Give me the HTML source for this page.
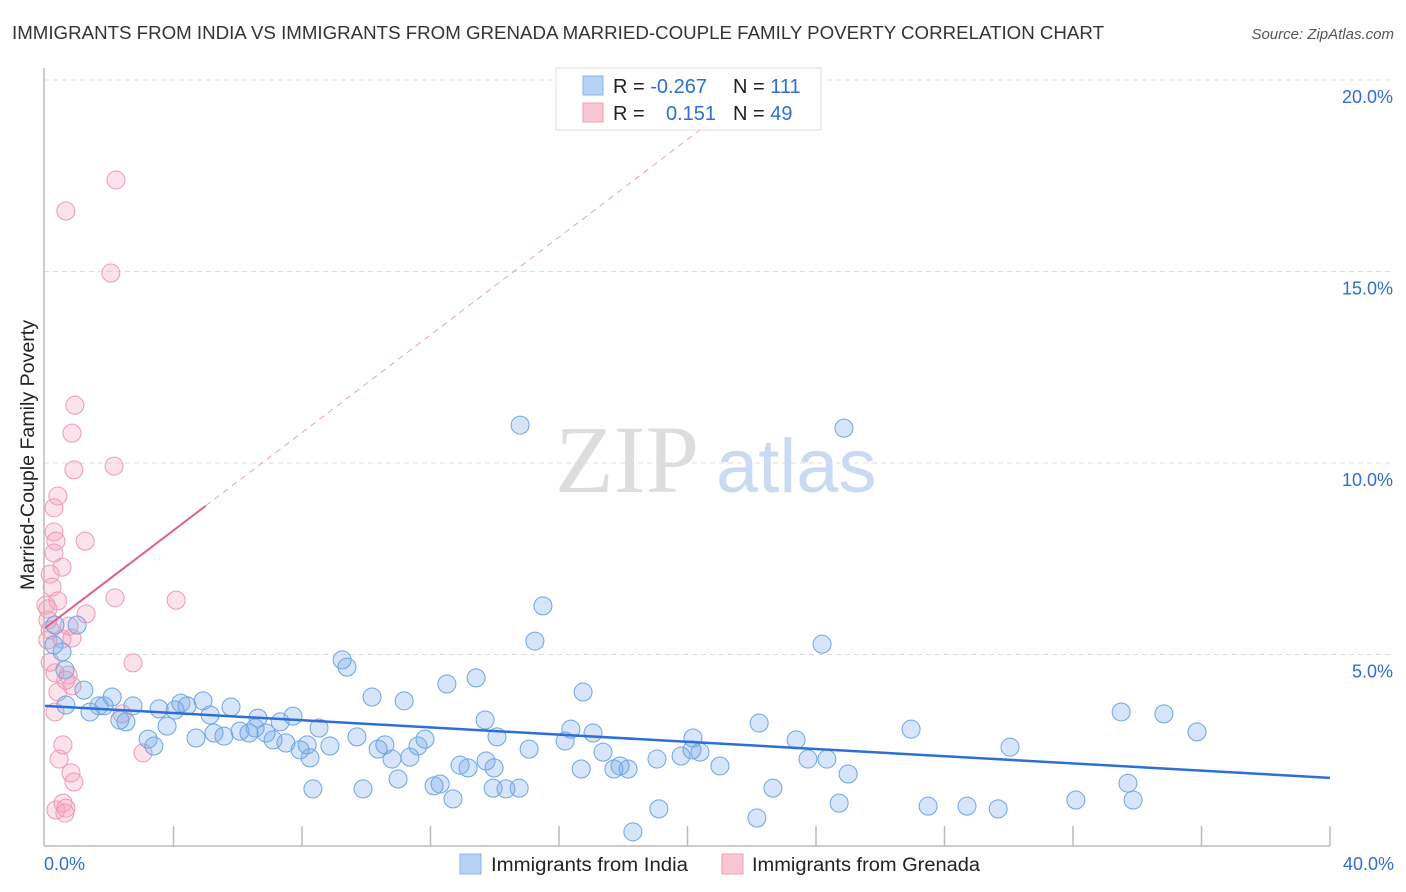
<!DOCTYPE html>
<html><head><meta charset="utf-8"><style>
body{margin:0;background:#fff;font-family:"Liberation Sans",sans-serif;}
#c{position:relative;width:1406px;height:892px;overflow:hidden;}
</style></head><body>
<div id="c">
<svg id="s" width="1406" height="892" xmlns="http://www.w3.org/2000/svg">
<text x="12" y="39" font-size="18" fill="#333" textLength="1092" lengthAdjust="spacingAndGlyphs">IMMIGRANTS FROM INDIA VS IMMIGRANTS FROM GRENADA MARRIED-COUPLE FAMILY POVERTY CORRELATION CHART</text>
<text x="1394" y="39" font-size="15" fill="#555" font-style="italic" text-anchor="end">Source: ZipAtlas.com</text>
<text x="555" y="492" font-size="96" fill="#ddd" font-family="Liberation Serif">ZIP</text>
<text x="716" y="492" font-size="76" fill="#c9daf2">atlas</text>
<text transform="translate(34,455) rotate(-90)" font-size="19" fill="#222" text-anchor="middle" textLength="270" lengthAdjust="spacingAndGlyphs">Married-Couple Family Poverty</text>
<g id="grid"></g><g id="pts"></g><g id="lines"></g>
<line x1="44" y1="68" x2="44" y2="846" stroke="#bbb" stroke-width="1.5"/>
<line x1="44" y1="846" x2="1330" y2="846" stroke="#bbb" stroke-width="1.5"/>
<g>
<rect x="556" y="68" width="265" height="62" fill="#fff" stroke="#ddd"/>
<rect x="583" y="76" width="20" height="19" fill="#b6d2f5" stroke="#8bb4e8"/>
<rect x="583" y="103" width="20" height="19" fill="#f9c6d4" stroke="#ee9fb6"/>
<text x="613" y="93" font-size="20" fill="#222">R = <tspan fill="#2d6fd4">-0.267</tspan></text>
<text x="733" y="93" font-size="20" fill="#222">N = <tspan fill="#2d6fd4">111</tspan></text>
<text x="613" y="120" font-size="20" fill="#222">R = <tspan fill="#2d6fd4" x="666">0.151</tspan></text>
<text x="733" y="120" font-size="20" fill="#222">N = <tspan fill="#2d6fd4">49</tspan></text>
</g>
<text x="44" y="870" font-size="18" fill="#2d6fd4">0.0%</text>
<text x="1394" y="870" font-size="18" fill="#2d6fd4" text-anchor="end">40.0%</text>
<g>
<rect x="460" y="854" width="21" height="20" fill="#b6d2f5" stroke="#8bb4e8"/>
<text x="491" y="871" font-size="19" fill="#222" textLength="197" lengthAdjust="spacingAndGlyphs">Immigrants from India</text>
<rect x="722" y="854" width="21" height="20" fill="#f9c6d4" stroke="#ee9fb6"/>
<text x="752" y="871" font-size="19" fill="#222" textLength="228" lengthAdjust="spacingAndGlyphs">Immigrants from Grenada</text>
</g>
</svg>
</div>
<script>
const yTicks=[5,10,15,20];
const xTicks=[4,8,12,16,20,24,28,32,36,40];
const indiaX=[14.79,24.87,15.50,15.25,24.19,9.25,9.40,12.51,13.42,16.75,10.18,11.18,33.50,34.83,35.86,26.96,30.04,22.23,23.38,20.17,20.14,20.39,19.80,21.01,19.05,18.15,17.90,17.71,16.69,17.37,17.06,16.37,16.19,15.07,13.70,14.07,13.73,13.17,12.92,13.98,13.95,14.76,14.35,12.30,12.11,12.70,10.99,9.90,8.34,19.11,18.30,22.16,22.66,23.75,24.34,25.00,24.72,27.49,28.70,29.67,32.09,33.87,33.71,1.21,2.09,2.33,2.74,1.40,1.68,1.84,2.52,3.21,3.39,3.55,3.80,4.23,4.42,4.05,4.70,4.92,5.14,5.26,5.57,5.79,6.07,6.35,6.54,6.63,6.88,7.10,7.32,7.50,7.72,7.94,8.16,8.53,8.25,8.87,9.71,10.37,10.58,10.80,11.36,11.61,11.83,0.62,0.53,1.00,0.31,0.28,0.65];
const indiaY=[10.99,10.91,6.27,5.35,5.27,4.86,4.67,4.23,4.39,4.02,3.89,3.79,3.50,3.45,2.98,3.05,2.58,3.21,2.77,2.82,2.51,2.45,2.35,2.09,2.27,2.01,2.09,2.01,2.01,2.45,2.95,3.05,2.74,2.53,3.29,2.85,2.22,2.04,2.11,2.04,1.51,1.51,1.49,1.62,1.57,1.23,1.75,1.49,1.49,0.97,0.37,0.73,1.51,2.27,2.27,1.88,1.12,1.04,1.04,0.97,1.20,1.20,1.64,4.07,3.89,3.29,3.66,3.50,3.66,3.66,3.24,2.79,2.61,3.58,3.13,3.73,3.66,3.55,2.82,3.79,3.42,2.95,2.87,3.63,3.00,2.95,3.08,3.34,2.95,2.77,3.24,2.69,3.39,2.51,2.64,3.08,2.30,2.61,2.85,2.53,2.64,2.27,2.32,2.61,2.79,4.60,5.07,5.77,5.77,5.25,3.68];
const grenadaX=[2.21,0.65,2.05,0.93,0.84,0.90,2.15,0.40,0.28,0.28,0.34,1.25,0.28,0.53,0.16,0.22,0.40,0.03,0.09,2.18,4.08,1.28,0.75,0.53,0.09,0.84,2.74,0.16,0.31,0.72,0.65,0.40,0.84,0.31,2.40,3.05,0.56,0.44,0.81,0.90,0.56,0.34,0.65,0.62,0.09,0.16];
const grenadaY=[17.39,16.58,14.96,11.51,10.78,9.82,9.92,9.14,8.83,8.20,7.96,7.96,7.65,7.28,7.10,6.76,6.40,6.29,6.19,6.48,6.42,6.06,5.74,5.40,5.38,5.43,4.78,4.80,4.52,4.46,4.33,4.02,4.18,3.50,3.45,2.43,2.64,2.27,1.91,1.67,1.12,0.94,0.99,0.86,5.90,5.64];
const indiaTrend=[3.66,1.78];
const grenadaTrend=[5.69,8.88];
const NS="http://www.w3.org/2000/svg";
const X=v=>45+v*32.125, Y=v=>846-v*38.3;
function mk(t,a,p){const e=document.createElementNS(NS,t);for(const k in a)e.setAttribute(k,a[k]);p.appendChild(e);return e;}
const grid=document.getElementById('grid');
yTicks.forEach(t=>{
  const l=mk('line',{x1:44,x2:1394,y1:Y(t),y2:Y(t),stroke:'#ddd','stroke-dasharray':'5,4'},grid);
  
  
  const tx=mk('text',{x:1393,y:Y(t)+23,'font-size':18,fill:'#2d6fd4','text-anchor':'end'},grid);
  tx.textContent=t.toFixed(1)+'%';
  
  
});
xTicks.forEach(t=>{
  const l=mk('line',{x1:X(t),x2:X(t),y1:826,y2:846,stroke:'#bbb','stroke-width':1.5},grid);
  
  
});
const pts=document.getElementById('pts');
grenadaX.forEach((x,i)=>{
  const c=mk('circle',{cx:X(x),cy:Y(grenadaY[i]),r:9,fill:'rgba(244,160,188,0.3)',stroke:'#ee9ab4','stroke-width':1},pts);
  
  
});
indiaX.forEach((x,i)=>{
  const c=mk('circle',{cx:X(x),cy:Y(indiaY[i]),r:9,fill:'rgba(120,170,235,0.3)',stroke:'#6ea4e6','stroke-width':1},pts);
  
  
});
const lines=document.getElementById('lines');
const bl=mk('line',{x1:X(0),y1:Y(indiaTrend[0]),x2:X(40),y2:Y(indiaTrend[1]),stroke:'#2e6fd6','stroke-width':2.5},lines);


const slope=(grenadaTrend[1]-grenadaTrend[0])/5;
const pl=mk('line',{x1:X(0),y1:Y(grenadaTrend[0]),x2:X(5),y2:Y(grenadaTrend[1]),stroke:'#e0608c','stroke-width':2},lines);


const pd=mk('line',{x1:X(5),y1:Y(grenadaTrend[1]),x2:X(20.6),y2:Y(grenadaTrend[0]+slope*20.6),stroke:'#eca0b8','stroke-width':1,'stroke-dasharray':'6,5'},lines);


</script>
</body></html>
